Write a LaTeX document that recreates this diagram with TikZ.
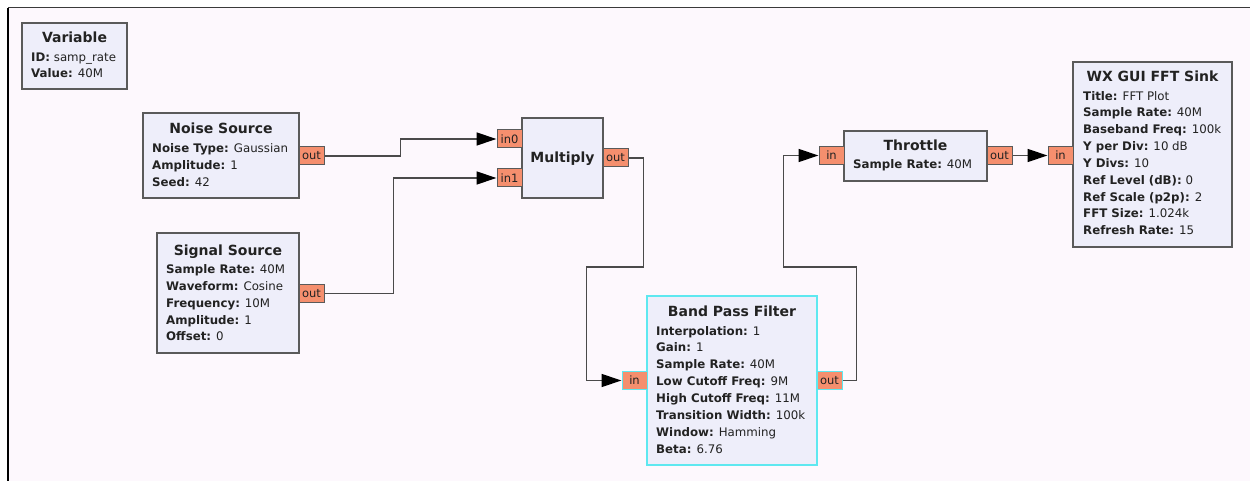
\documentclass[tikz,border=0pt]{standalone}
\usepackage{fontspec}
\setsansfont{DejaVu Sans}
\usetikzlibrary{arrows.meta}

\begin{document}
\begin{tikzpicture}[x=1pt,y=-1pt,font=\sffamily,
  block/.style={draw=edge,fill=blockfill,line width=1.4pt,inner sep=0pt},
  port/.style={draw=edge,fill=portfill,line width=1pt,inner sep=0pt,minimum width=25pt,minimum height=18pt,text=ink,font=\sffamily\fontsize{11.5}{12}\selectfont},
  title/.style={anchor=base,inner sep=0pt,text=ink,font=\sffamily\bfseries\fontsize{14}{16}\selectfont},
  props/.style={anchor=base west,align=left,inner sep=0pt,text=ink,font=\sffamily\fontsize{11.8}{16.85}\selectfont},
  wire/.style={draw=wirec,line width=1.3pt},
  flow/.style={wire,-{Triangle[length=20pt,width=13pt,color=black]}}]
\definecolor{canvas}{HTML}{FDF8FD}\definecolor{blockfill}{HTML}{EEEEFA}
\definecolor{portfill}{HTML}{F58F6E}\definecolor{edge}{HTML}{5A5A5A}
\definecolor{sel}{HTML}{5EE8F0}\definecolor{ink}{HTML}{222222}
\definecolor{wirec}{HTML}{4A4A4A}\definecolor{frame}{HTML}{3A3A3A}
\useasboundingbox (0,0) rectangle (1250,481);
% canvas
\fill[canvas] (8,8) rectangle (1250,481);
\draw[frame,line width=1pt] (8,8) -- (1250,8);
\draw[black,line width=2pt] (8,8) -- (8,481);
% variable (props nodes sit on the baseline of their last line)
\node[block,minimum width=105pt,minimum height=66pt] (var) at (74.5,56) {};
\node[title] at (74.5,43) {Variable};
\node[props] at (31,77.9) {\textbf{ID:} samp\_rate\\\textbf{Value:} 40M};
% noise source
\node[block,minimum width=156pt,minimum height=85pt] (noise) at (221,155.5) {};
\node[title] at (221,134) {Noise Source};
\node[props] at (152,186.7) {\textbf{Noise Type:} Gaussian\\\textbf{Amplitude:} 1\\\textbf{Seed:} 42};
\node[port] (noiseout) at (311.5,156) {out};
% signal source
\node[block,minimum width=142pt,minimum height=120pt] (sig) at (228,293) {};
\node[title] at (228,255) {Signal Source};
\node[props] at (166,340.9) {\textbf{Sample Rate:} 40M\\\textbf{Waveform:} Cosine\\\textbf{Frequency:} 10M\\\textbf{Amplitude:} 1\\\textbf{Offset:} 0};
\node[port] (sigout) at (311.5,293.5) {out};
% multiply
\node[block,minimum width=81pt,minimum height=80pt] (mul) at (562.5,158) {};
\node[title] at (562.5,162.5) {Multiply};
\node[port] (in0) at (509.5,139) {in0};
\node[port] (in1) at (509.5,178) {in1};
\node[port] (mulout) at (615.5,158) {out};
% band pass filter
\node[block,draw=sel,minimum width=170pt,minimum height=169pt] (bpf) at (732,380.5) {};
\node[title] at (732,316.5) {Band Pass Filter};
\node[props] at (656,453) {\textbf{Interpolation:} 1\\\textbf{Gain:} 1\\\textbf{Sample Rate:} 40M\\\textbf{Low Cutoff Freq:} 9M\\\textbf{High Cutoff Freq:} 11M\\\textbf{Transition Width:} 100k\\\textbf{Window:} Hamming\\\textbf{Beta:} 6.76};
\node[port,draw=sel] (bpfin) at (634.5,380.5) {in};
\node[port,draw=sel] (bpfout) at (829.5,380.5) {out};
% throttle
\node[block,minimum width=143pt,minimum height=50pt] (thr) at (915.5,156) {};
\node[title] at (915.5,151) {Throttle};
\node[props] at (853,169) {\textbf{Sample Rate:} 40M};
\node[port] (thrin) at (831.5,155.5) {in};
\node[port] (throut) at (999.5,155.5) {out};
% fft sink
\node[block,minimum width=159pt,minimum height=185pt] (fft) at (1152.5,154.5) {};
\node[title] at (1152.5,81.5) {WX GUI FFT Sink};
\node[props] at (1083,234.8) {\textbf{Title:} FFT Plot\\\textbf{Sample Rate:} 40M\\\textbf{Baseband Freq:} 100k\\\textbf{Y per Div:} 10 dB\\\textbf{Y Divs:} 10\\\textbf{Ref Level (dB):} 0\\\textbf{Ref Scale (p2p):} 2\\\textbf{FFT Size:} 1.024k\\\textbf{Refresh Rate:} 15};
\node[port] (fftin) at (1060.5,155.5) {in};
% wires
\draw[flow] (noiseout.east) -- ++(76,0) |- (in0.west);
\draw[flow] (sigout.east) -- ++(69,0) |- (in1.west);
\draw[flow] (mulout.east) -- ++(15,0) -- ++(0,109) -- ++(-57,0) |- (bpfin.west);
\draw[flow] (bpfout.east) -- ++(14,0) -- ++(0,-113.5) -- ++(-73,0) |- (thrin.west);
\draw[flow] (throut.east) -- (fftin.west);
\end{tikzpicture}
\end{document}
